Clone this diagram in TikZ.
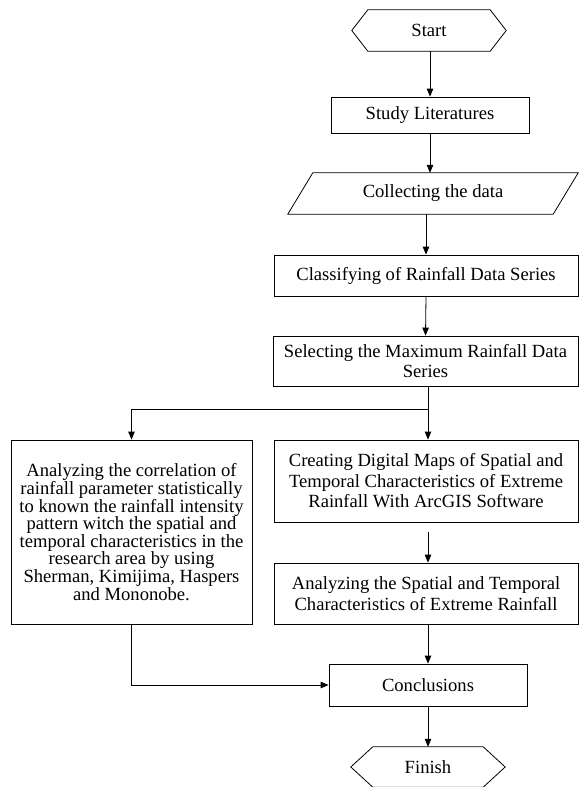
\documentclass[tikz,border=0pt]{standalone}
\usepackage{fontspec}
\setmainfont{Liberation Serif}
\usetikzlibrary{arrows.meta,calc}
\begin{document}
\begin{tikzpicture}[x=1pt,y=1pt,
  every node/.style={font=\fontsize{18.6}{20.5}\selectfont, inner sep=0pt, align=center},
  box/.style={draw, line width=0.8pt},
  plain/.style={line width=0.8pt},
  arr/.style={line width=0.8pt, -{Triangle[length=8pt,width=6.5pt]}}
]
\useasboundingbox (0,0) rectangle (579,-787);

% nodes
\node (start) [minimum width=122, minimum height=41] at (429,-30.5) {Start};
\draw[plain] (start.north west) -- (start.north east) -- ([xshift=16]start.east)
  -- (start.south east) -- (start.south west) -- ([xshift=-16]start.west) -- cycle;

\node (study) [box, minimum width=198, minimum height=36] at (430,-115) {Study Literatures};

\node (collect) [minimum width=240, minimum height=41] at (433,-193.5) {Collecting the data};
\draw[plain] (collect.north west) -- ([xshift=25]collect.north east)
  -- (collect.south east) -- ([xshift=-25]collect.south west) -- cycle;

\node (classify) [box, minimum width=304, minimum height=41] at (426,-275.5) {Classifying of Rainfall Data Series};

\node (select) [box, minimum width=305, minimum height=50] at (425.5,-361) {Selecting the Maximum Rainfall Data\\Series};

\node (left) [box, minimum width=241, minimum height=184, font=\fontsize{18.6}{17.6}\selectfont] at (131.5,-532)
  {Analyzing the correlation of\\rainfall parameter statistically\\to known the rainfall intensity\\pattern witch the spatial and\\temporal characteristics in the\\research area by using\\Sherman, Kimijima, Haspers\\and Mononobe.};

\node (create) [box, minimum width=304, minimum height=82] at (426,-481)
  {Creating Digital Maps of Spatial and\\Temporal Characteristics of Extreme\\Rainfall With ArcGIS Software};

\node (analyze) [box, minimum width=304, minimum height=61] at (426,-593.5)
  {Analyzing the Spatial and Temporal\\Characteristics of Extreme Rainfall};

\node (concl) [box, minimum width=198, minimum height=42] at (428,-685) {Conclusions};

\node (finish) [minimum width=110, minimum height=40] at (428,-767) {Finish};
\draw[plain] (finish.north west) -- (finish.north east) -- ([xshift=22]finish.east)
  -- (finish.south east) -- (finish.south west) -- ([xshift=-22]finish.west) -- cycle;

% coordinates
\coordinate (branch) at (428,-409);
\coordinate (gap) at (428,-532);

% connectors
\draw[arr] (start.south -| study.north) -- (study.north);
\draw[arr] (study.south) -- (study.south |- collect.north);
\draw[arr] (collect.south -| classify.north) -- (classify.north);
\draw[arr] (classify.south) -- (select.north);
\draw[plain] (select.south -| branch) -- (branch);
\draw[arr] (branch) -| (left.north);
\draw[arr] (branch) -- (create.north -| branch);
\draw[arr] (gap) -- (analyze.north -| gap);
\draw[arr] (analyze.south -| concl.north) -- (concl.north);
\draw[arr] (left.south) |- (concl.west);
\draw[arr] (concl.south) -- (finish.north);
\end{tikzpicture}
\end{document}
